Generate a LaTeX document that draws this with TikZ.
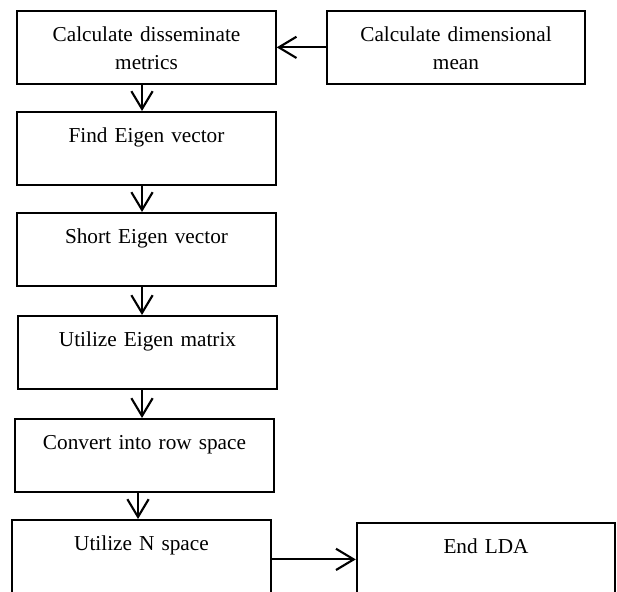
\documentclass[tikz,border=0pt]{standalone}
\usepackage{fontspec}
\setmainfont{Liberation Serif}
\usetikzlibrary{arrows.meta}
\tikzset{
  box/.style={draw,line width=1pt,anchor=north,text width=140pt,align=center,
    inner xsep=3pt,inner ysep=8pt,text height=9.2pt,text depth=16pt,
    font=\fontsize{12}{15.8}\selectfont},
  flow/.style={line width=1.2pt,-{Straight Barb[length=10pt,width=12pt]}}
}
\begin{document}
\begin{tikzpicture}[x=0.5645pt,y=-0.5645pt]
\useasboundingbox (0,0) rectangle (617,592);
\node[box] (calc) at (146.5,10) {Calculate disseminate\\ metrics};
\node[box] (mean) at (456,10) {Calculate dimensional\\ mean};
\node[box] (eigen) at (146.5,111) {Find Eigen vector};
\node[box] (sort) at (146.5,212) {Short Eigen vector};
\node[box] (util) at (147.5,315) {Utilize Eigen matrix};
\node[box] (conv) at (144.5,418) {Convert into row space};
\node[box] (nspace) at (141.5,519) {Utilize N space};
\node[box] (endlda) at (486,522) {End LDA};
\draw[flow] (mean.west) -- (calc.east);
\foreach \a/\b/\x in {calc/eigen/142,eigen/sort/142,sort/util/142,util/conv/142,conv/nspace/138}
  \draw[flow] (\x,0 |- \a.south) -- (\x,0 |- \b.north);
\draw[flow] (nspace.east |- endlda.west) -- (endlda.west);
\end{tikzpicture}
\end{document}
